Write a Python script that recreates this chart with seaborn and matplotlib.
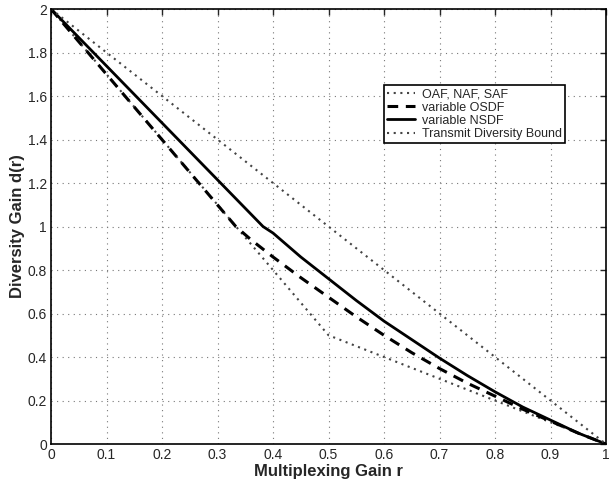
import numpy as np
import matplotlib
matplotlib.use("Agg")
import matplotlib.pyplot as plt
import seaborn as sns
from matplotlib.ticker import FormatStrFormatter

# multiplexing gain r and diversity gain d(r) for each scheme
r_bound = [0.0, 1.0]
d_bound = [2.0, 0.0]

r_oaf = [0.0, 0.5, 1.0]
d_oaf = [2.0, 0.5, 0.0]

r_osdf = [0.0, 0.333, 0.36, 0.4, 0.45, 0.5, 0.55, 0.6, 0.65, 0.7, 0.75, 0.8, 0.85, 0.9, 0.95, 1.0]
d_osdf = [2.0, 1.0, 0.94, 0.86, 0.765, 0.675, 0.585, 0.50, 0.42, 0.347, 0.28, 0.22, 0.16, 0.105, 0.05, 0.0]

r_nsdf = [0.0, 0.382, 0.4, 0.45, 0.5, 0.55, 0.6, 0.65, 0.7, 0.75, 0.8, 0.85, 0.9, 0.95, 1.0]
d_nsdf = [2.0, 1.0, 0.97, 0.86, 0.76, 0.66, 0.565, 0.48, 0.395, 0.315, 0.24, 0.17, 0.11, 0.05, 0.0]

sns.set_style("white")
plt.rcParams['font.family'] = ['Liberation Sans', 'DejaVu Sans']

fig = plt.figure(figsize=(6.16, 4.82), dpi=100)
ax = fig.add_axes([0.0828, 0.0788, 0.901, 0.9025])

sns.lineplot(x=r_oaf, y=d_oaf, ax=ax, color="#444444", linewidth=1.5,
             linestyle=(0, (1, 2.2)), label="OAF, NAF, SAF")
sns.lineplot(x=r_osdf, y=d_osdf, ax=ax, color="black", linewidth=2.2,
             linestyle=(0, (3.5, 2.5)), label="variable OSDF")
sns.lineplot(x=r_nsdf, y=d_nsdf, ax=ax, color="black", linewidth=2.0,
             linestyle="-", label="variable NSDF")
sns.lineplot(x=r_bound, y=d_bound, ax=ax, color="#444444", linewidth=1.5,
             linestyle=(0, (1, 2.2)), label="Transmit Diversity Bound")

ax.set_xlim(0, 1)
ax.set_ylim(0, 2)
ax.set_xticks(np.arange(0, 1.01, 0.1))
ax.set_yticks(np.arange(0, 2.01, 0.2))
ax.xaxis.set_major_formatter(FormatStrFormatter('%g'))
ax.yaxis.set_major_formatter(FormatStrFormatter('%g'))
ax.grid(True, color="#777777", linestyle=(0, (1, 4)), linewidth=0.8)
ax.tick_params(direction="in", length=4, width=1, top=True, right=True,
               labelsize=10, pad=3)
for s in ax.spines.values():
    s.set_visible(True)
    s.set_color("black")
    s.set_linewidth(1.2)

ax.set_xlabel("Multiplexing Gain r", fontsize=12, fontweight="bold", labelpad=1)
ax.set_ylabel("Diversity Gain d(r)", fontsize=12, fontweight="bold", labelpad=2)

leg = ax.legend(loc="upper left", bbox_to_anchor=(0.6, 0.825), fontsize=9,
                frameon=True, fancybox=False, framealpha=1, edgecolor="black",
                handlelength=2.2, borderpad=0.25, labelspacing=0.1,
                handletextpad=0.6, borderaxespad=0)
leg.get_frame().set_linewidth(1.2)

fig.savefig("out.png", dpi=100)
